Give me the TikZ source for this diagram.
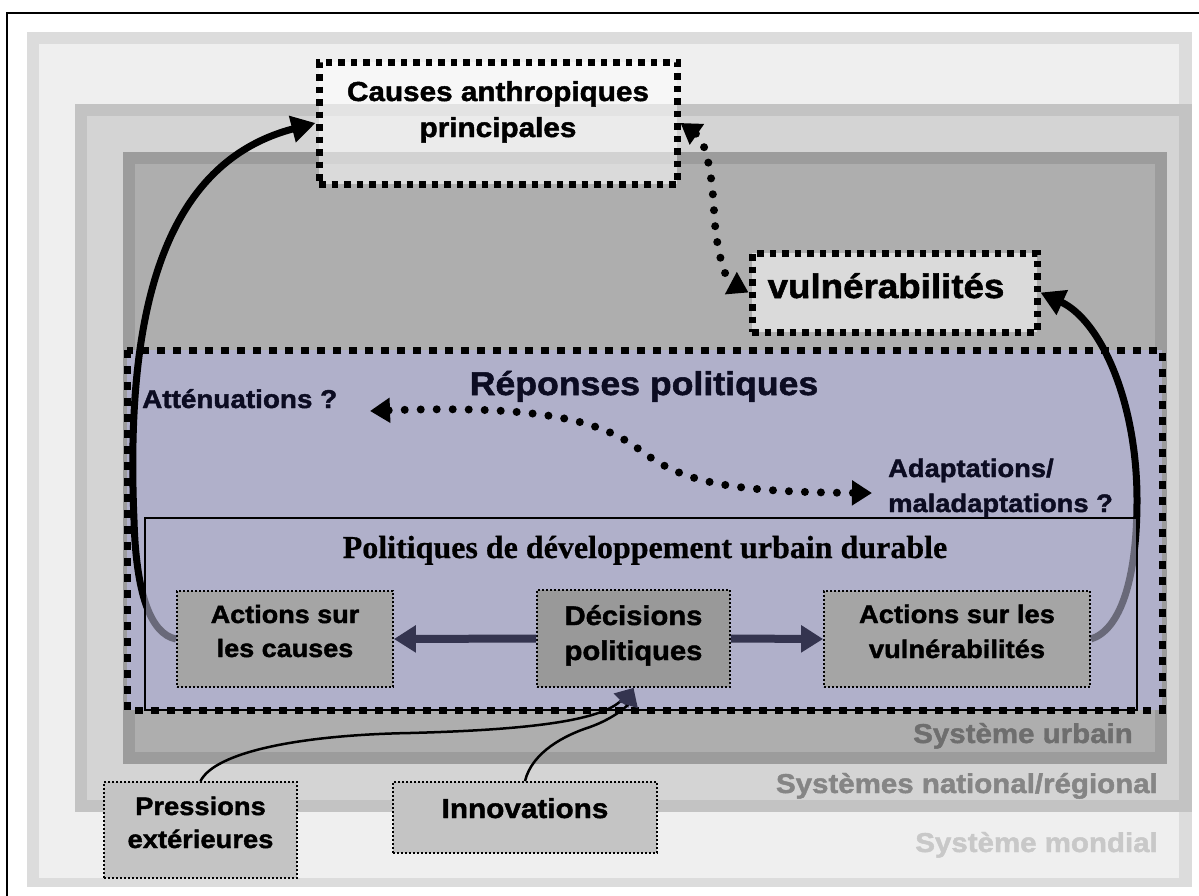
\documentclass[tikz,border=0pt]{standalone}
\usepackage{fontspec}
\setmainfont{Liberation Sans}[FakeStretch=1.08,BoldFeatures={FakeBold=1.6}]
\newfontfamily\serifbold{Liberation Serif}[BoldFeatures={FakeBold=0.6}]
\usetikzlibrary{arrows.meta}
\definecolor{mondband}{HTML}{DCDCDC}
\definecolor{mondin}{HTML}{EFEFEF}
\definecolor{natband}{HTML}{C3C3C3}
\definecolor{natin}{HTML}{D4D4D4}
\definecolor{urbband}{HTML}{9C9C9C}
\definecolor{urbin}{HTML}{AEAEAE}
\definecolor{repfill}{HTML}{B0B0CA}
\definecolor{actfill}{HTML}{A5A5A5}
\definecolor{decfill}{HTML}{999999}
\definecolor{extfill}{HTML}{C4C4C4}
\definecolor{arrnavy}{HTML}{34344F}
\definecolor{txtnavy}{HTML}{0C0C22}
\definecolor{urbtxt}{HTML}{6E6E6E}
\definecolor{nattxt}{HTML}{858585}
\definecolor{mondtxt}{HTML}{C8C8C8}
\newcommand\fsz[1]{\fontsize{#1}{#1}\selectfont}
\pgfdeclarelayer{back}
\pgfdeclarelayer{curv}
\pgfdeclarelayer{polf}
\pgfsetlayers{back,curv,polf,main}
\begin{document}
\begin{tikzpicture}[x=1pt,y=-1pt,
  lbl/.style={anchor=base,inner sep=0pt},
  thinbox/.style={draw=black,line width=1.8pt,dash pattern=on 1.8pt off 2.2pt,inner sep=0pt},
  thickbox/.style={draw=black,line width=7pt,dash pattern=on 6.5pt off 6pt,inner sep=0pt,fill=white,fill opacity=0.55},
  bigcurve/.style={line width=7pt,-{Triangle[length=24pt,width=26pt]}},
  dotarrow/.style={line width=8pt,line cap=round,dash pattern=on 0pt off 16pt,{Triangle[length=20pt,width=24pt]}-{Triangle[length=20pt,width=24pt]}},
  harrow/.style={draw=arrnavy,line width=8pt,-{Triangle[length=22pt,width=26pt]}},
  thincurve/.style={line width=2.5pt,-{Triangle[length=18pt,width=20pt,color=arrnavy]}}
]
\useasboundingbox (0,0) rectangle (1199,895);
\clip (0,0) rectangle (1199,895);

\begin{pgfonlayer}{back}
\fill[white] (0,0) rectangle (1199,895);
\draw[line width=2.5pt] (7,905) -- (7,13) -- (1210,13);
% systeme mondial
\fill[mondband] (27,32) rectangle (1192,887);
\fill[mondin] (39,44) rectangle (1179,878);
% systeme national
\fill[natband] (75,104) rectangle (1192,812);
\fill[natin] (87,116) rectangle (1179,800);
% systeme urbain
\fill[urbband] (123,152) rectangle (1167,764);
\fill[urbin] (135,164) rectangle (1155,752);
% reponses politiques
\fill[repfill] (127,350) rectangle (1162,710);
\end{pgfonlayer}

% Politiques de developpement urbain durable
\begin{pgfonlayer}{polf}
\node[draw=black,line width=1.5pt,fill=repfill,fill opacity=0.6,inner sep=0pt,
      minimum width=992,minimum height=192] (pol) at (641,614) {};
\end{pgfonlayer}

% boxes
\node[thinbox,fill=actfill,minimum width=216,minimum height=96] (actc) at (285,639) {};
\node[thinbox,fill=decfill,minimum width=193,minimum height=97] (dec) at (633.5,638.5) {};
\node[thinbox,fill=actfill,minimum width=266,minimum height=96] (actv) at (957,639) {};
\node[thinbox,fill=extfill,minimum width=193,minimum height=96] (pres) at (200.5,830) {};
\node[thinbox,fill=extfill,minimum width=264,minimum height=71] (inno) at (525,817.5) {};

% reponses politiques border
\draw[line width=7pt,dash pattern=on 8pt off 8pt] (127,350) rectangle (1162,710);

\node[thickbox,minimum width=358,minimum height=122] (causes) at (498,123) {};
\node[thickbox,minimum width=285,minimum height=79] (vuln) at (894.5,292.5) {};

% big curves
\begin{pgfonlayer}{curv}
\draw[bigcurve] (actc.west) .. controls (150,634) and (136,592) .. (134,520)
   .. controls (126,330) and (155,165) .. (causes.west);
\draw[bigcurve] (actv.east) .. controls (1120,630) and (1137,580) .. (1137,500)
   .. controls (1137,400) and (1100,320) .. (vuln.east);
\end{pgfonlayer}

% horizontal arrows
\draw[harrow] (dec.west) -- (actc.east);
\draw[harrow] (dec.east) -- (actv.west);

% dotted arrows
\draw[dotarrow] (causes.east) .. controls (705,140) and (712,170) .. (714,211)
   .. controls (716,250) and (725,280) .. (vuln.west);
\coordinate (attnTip) at (370,411);
\coordinate (adaptTip) at (872,493);
\draw[dotarrow] (attnTip) .. controls (540,405) and (600,420) .. (640,450)
   .. controls (680,480) and (720,492) .. (adaptTip);

% thin curves
\draw[thincurve] (pres.north) .. controls (215,752) and (300,735) .. (410,733)
   .. controls (520,730) and (600,722) .. (dec.south);
\draw[thincurve] (inno.north) .. controls (532,752) and (565,735) .. (590,727)
   .. controls (615,718) and (628,705) .. (dec.south);

% texts
\node[lbl,font=\bfseries\fsz{27.5}] at (498,101) {Causes anthropiques};
\node[lbl,font=\bfseries\fsz{27.5}] at (498,137) {principales};
\node[lbl,font=\bfseries\fsz{34}] at (886,298) {vulnérabilités};
\node[lbl,font=\bfseries\fsz{33},text=txtnavy] at (644,395) {Réponses politiques};
\node[lbl,anchor=base west,font=\bfseries\fsz{25.8},text=txtnavy] (attn) at (142,408) {Atténuations ?};
\node[lbl,anchor=base west,font=\bfseries\fsz{25.3},text=txtnavy] (adapt) at (888,477) {Adaptations/};
\node[lbl,anchor=base west,font=\bfseries\fsz{25.3},text=txtnavy] at (888,512) {maladaptations ?};
\node[lbl,font=\serifbold\bfseries\fsz{32}] at (645,558) {Politiques de développement urbain durable};
\node[lbl,font=\bfseries\fsz{25}] at (285,623) {Actions sur};
\node[lbl,font=\bfseries\fsz{25}] at (285,657) {les causes};
\node[lbl,font=\bfseries\fsz{27}] at (633.5,625) {Décisions};
\node[lbl,font=\bfseries\fsz{27}] at (633.5,660) {politiques};
\node[lbl,font=\bfseries\fsz{25.3}] at (957,623) {Actions sur les};
\node[lbl,font=\bfseries\fsz{25.3}] at (957,658) {vulnérabilités};
\node[lbl,font=\bfseries\fsz{25.3}] at (200.5,815) {Pressions};
\node[lbl,font=\bfseries\fsz{25.3}] at (200.5,848) {extérieures};
\node[lbl,font=\bfseries\fsz{27.5}] at (525,818) {Innovations};
\node[lbl,anchor=base east,font=\bfseries\fsz{27.3},text=urbtxt] at (1133,743) {Système urbain};
\node[lbl,anchor=base east,font=\bfseries\fsz{27.3},text=nattxt] at (1158,793) {Systèmes national/régional};
\node[lbl,anchor=base east,font=\bfseries\fsz{27.3},text=mondtxt] at (1158,852) {Système mondial};
\end{tikzpicture}
\end{document}
